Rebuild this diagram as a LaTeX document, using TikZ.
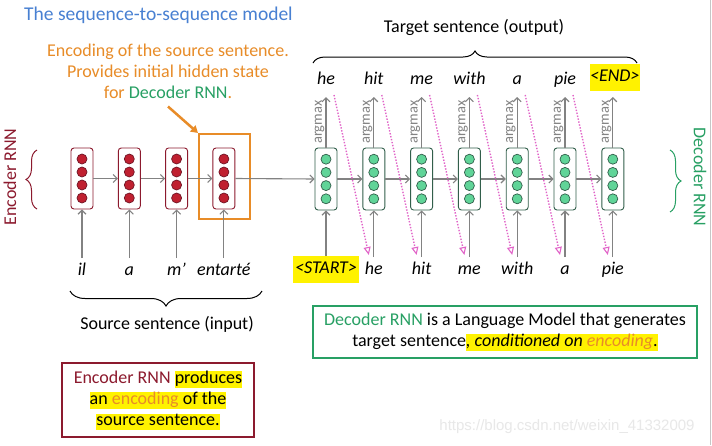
\documentclass[tikz,border=0pt]{standalone}
\usepackage{fontspec}
\setmainfont{Carlito}
\newfontfamily\wmfont{Liberation Sans}
\usetikzlibrary{arrows.meta,decorations.pathreplacing,calc}
\definecolor{tblue}{RGB}{72,128,210}
\definecolor{torange}{RGB}{232,140,40}
\definecolor{tred}{RGB}{140,26,46}
\definecolor{tgreen}{RGB}{40,160,100}
\definecolor{cellred}{RGB}{192,32,48}
\definecolor{cellgreen}{RGB}{96,212,152}
\definecolor{cellgborder}{RGB}{50,95,75}
\definecolor{tgray}{RGB}{130,130,130}
\definecolor{tpink}{RGB}{225,100,200}
\newcommand{\mainf}{\fontsize{18}{21}\selectfont}
\newcommand{\hlt}[1]{{\setlength{\fboxsep}{0pt}\colorbox{yellow}{\rule[-4.5pt]{0pt}{16pt}#1}}}
\tikzset{
  garrow/.style={draw=tgray, line width=1.1pt, -{Straight Barb[length=4pt,width=8pt,line width=1.1pt]}},
  pinkarrow/.style={draw=tpink, line width=1.4pt, dash pattern=on 1.4pt off 1.6pt, -{Triangle[open,length=8pt,width=7pt,line width=1.1pt]}},
  enccell/.style={draw=tred, fill=white, rounded corners=3pt, minimum width=22pt, minimum height=61pt, inner sep=0pt, line width=0.9pt},
  deccell/.style={draw=cellgborder, fill=white, rounded corners=3pt, minimum width=22pt, minimum height=62pt, inner sep=0pt, line width=0.9pt},
  word/.style={font=\mainf\itshape, text height=12pt, text depth=4pt, inner sep=0pt},
  bracefig/.style={decorate, line width=1pt},
  argm/.style={font=\fontsize{14.5}{15}\selectfont, text=tgray, inner sep=1pt, rotate=90, anchor=south}
}
\begin{document}
\begin{tikzpicture}[x=1pt,y=-1pt,font=\mainf]
\useasboundingbox (0,0) rectangle (712,445);
\fill[white] (0,0) rectangle (712,445);
\draw[gray!45, line width=1pt] (710,0) -- (710,445);

% title
\node[anchor=west, inner sep=0pt, text=tblue, font=\fontsize{19.5}{22}\selectfont] (title) at (24,15) {The sequence-to-sequence model};

% orange annotation
\node[align=center, text=torange, inner sep=0pt] (enctext) at (168,71)
  {Encoding of the source sentence.\\ Provides initial hidden state\\ for {\color{tgreen}Decoder RNN}.};

% orange box around last encoder state
\node[draw=torange, line width=2pt, minimum width=51pt, minimum height=85pt, inner sep=0pt] (ebox) at (224.5,176.5) {};
\draw[torange, line width=2.5pt, -{Triangle[length=7pt,width=8pt]}] ($(enctext.south)+(0,8)$) -- (ebox.north west);

% encoder cells
\foreach \i in {1,...,4} {
  \pgfmathsetmacro{\xx}{82+47.3*(\i-1)}
  \node[enccell] (e\i) at (\xx,178.5) {};
  \foreach \k in {-1.5,-0.5,0.5,1.5}
    \filldraw[fill=cellred, draw=tred!80!black, line width=0.7pt] ($(e\i)+(0,\k*13)$) circle[radius=5pt];
  \coordinate (ie\i) at (\xx,258);
}
\foreach \i/\w in {1/il,2/a,3/m’,4/entarté} {
  \node[word] (we\i) at ($(ie\i)+(0,13)$) {\w};
  \draw[garrow] (ie\i) -- (e\i.south);
}
\foreach \i [evaluate=\i as \j using int(\i+1)] in {1,2,3}
  \draw[garrow] (e\i.east) -- (e\j.west);

% decoder cells
\foreach \i in {1,...,7} {
  \pgfmathsetmacro{\xx}{326+47.8*(\i-1)}
  \node[deccell] (d\i) at (\xx,179) {};
  \foreach \k in {-1.5,-0.5,0.5,1.5}
    \filldraw[fill=cellgreen, draw=cellgborder, line width=0.7pt] ($(d\i)+(0,\k*13.2)$) circle[radius=5pt];
  \coordinate (s\i) at (\xx,257);
  \coordinate (t\i) at (\xx,97);
  \draw[garrow] (s\i) -- (d\i.south);
  \draw[garrow] (d\i.north) -- node[argm] {argmax} (t\i);
}
\draw[garrow] (e4.east) -- (d1.west);
\foreach \i [evaluate=\i as \j using int(\i+1)] in {1,...,6}
  \draw[garrow] (d\i.east) -- (d\j.west);

% decoder input words
\node[word, fill=yellow, minimum width=66pt, minimum height=27pt] (wd1) at (326,269) {<START>};
\foreach \i/\w in {2/he,3/hit,4/me,5/with,6/a,7/pie}
  \node[word] (wd\i) at ($(s\i)+(0,13)$) {\w};

% output words
\foreach \i/\w in {1/he,2/hit,3/me,4/with,5/a,6/pie}
  \node[word] (o\i) at ($(t\i)+(0,-17)$) {\w};
\node[word, fill=yellow, minimum width=46pt, minimum height=27pt] (o7) at ($(t7)+(2,-20)$) {<END>};

% pink feedback arrows
\foreach \i [evaluate=\i as \j using int(\i+1)] in {1,...,6} {
  \coordinate (p\i) at ($(t\i)+(8,-2)$);
  \coordinate (q\i) at ($(s\j)+(-5,-2)$);
  \draw[pinkarrow] (p\i) -- (q\i);
}

% braces
\draw[bracefig, tred, decoration={brace, amplitude=11pt}] (37,209) -- (37,150);
\node[rotate=90, text=tred, inner sep=0pt] (enclab) at (10,177) {Encoder RNN};
\draw[bracefig, tgreen, decoration={brace, amplitude=11pt}] (670,150) -- (670,212);
\node[rotate=-90, text=tgreen, inner sep=0pt] (declab) at (700,177) {Decoder RNN};
\draw[bracefig, black, decoration={brace, amplitude=12pt}] (313,63) -- (637,63);
\node[inner sep=0pt] (tgtlab) at (474,27) {Target sentence (output)};
\draw[bracefig, black, decoration={brace, amplitude=15pt}] (262,291) -- (70,291);
\node[inner sep=0pt] (srclab) at (167,324) {Source sentence (input)};

% green box
\node[draw=tgreen, line width=1.2pt, minimum width=384pt, minimum height=52pt, align=center, inner sep=0pt] (gbox) at (505,332)
  {{\color{tgreen}Decoder RNN} is a Language Model that generates\\ target sentence\hlt{\textit{, conditioned on {\color{torange}encoding}}.}};

% red box
\node[draw=tred, line width=1.2pt, minimum width=192pt, minimum height=74pt, align=center, inner sep=0pt] (rbox) at (158,400)
  {{\color{tred}Encoder RNN} \hlt{produces}\\ \hlt{an {\color{torange}encoding} of the}\\ \hlt{source sentence.}};

% watermark
\node[font=\wmfont\fontsize{15}{16}\selectfont, text=gray!18, inner sep=0pt] (wm) at (567,427) {https://blog.csdn.net/weixin\_41332009};
\end{tikzpicture}
\end{document}
